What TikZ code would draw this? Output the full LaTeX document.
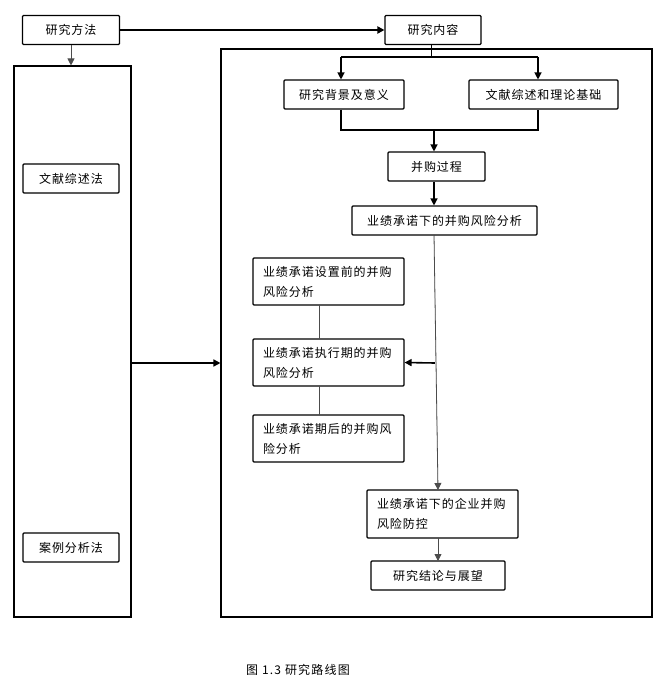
\documentclass[tikz,border=0pt]{standalone}
\usepackage{fontspec}
\newfontfamily\cjk[LetterSpace=8]{Noto Sans CJK SC}
\newfontfamily\capfont[LetterSpace=10]{Noto Sans CJK SC}
\usetikzlibrary{arrows.meta,calc}
\begin{document}
\begin{tikzpicture}[x=1pt,y=-1pt,
  box/.style={draw, line width=1.1pt, rounded corners=1pt, inner sep=0pt, align=center,
    font=\cjk\fontsize{12}{20}\selectfont},
  mbox/.style={box, align=left, inner xsep=10pt},
  frame/.style={draw, line width=1.1pt, inner sep=0pt},
  conn/.style={line width=1.2pt, -{Triangle[length=7pt,width=7pt]}},
  thin/.style={line width=0.8pt, draw=black!70},
  thinarr/.style={thin, -{Triangle[length=7pt,width=7pt]}, draw=black!70, fill=black}
]
\useasboundingbox (0,0) rectangle (663,680);
% frames
\node[frame, minimum width=117pt, minimum height=551pt] (lbox) at (72.5,341.5) {};
\node[frame, minimum width=431pt, minimum height=568pt] (rbox) at (436.5,333) {};
% top
\node[box, minimum width=97pt, minimum height=29pt] (m1) at (71,30) {研究方法};
\node[box, minimum width=96pt, minimum height=29pt] (c1) at (433,30) {研究内容};
% left methods
\node[box, minimum width=96pt, minimum height=29pt] (l1) at (71,178.5) {文献综述法};
\node[box, minimum width=96pt, minimum height=29pt] (l2) at (71,547.5) {案例分析法};
% right content
\node[box, minimum width=120pt, minimum height=29pt] (b1) at (344,94.5) {研究背景及意义};
\node[box, minimum width=149pt, minimum height=29pt] (b2) at (543.5,94.5) {文献综述和理论基础};
\node[box, minimum width=97pt, minimum height=29pt] (p1) at (436.5,166.5) {并购过程};
\node[box, minimum width=185pt, minimum height=29pt] (p2) at (444.5,220.5) {业绩承诺下的并购风险分析};
\node[mbox, minimum width=151pt, minimum height=47pt, text width=131pt] (s1) at (328.5,281.5) {业绩承诺设置前的并购\\风险分析};
\node[mbox, minimum width=151pt, minimum height=47pt, text width=131pt] (s2) at (328.5,362.5) {业绩承诺执行期的并购\\风险分析};
\node[mbox, minimum width=151pt, minimum height=47pt, text width=131pt] (s3) at (328.5,438.5) {业绩承诺期后的并购风\\险分析};
\node[mbox, minimum width=151pt, minimum height=48pt, text width=131pt] (p3) at (442.5,514) {业绩承诺下的企业并购\\风险防控};
\node[box, minimum width=134pt, minimum height=29pt] (p4) at (438,575.5) {研究结论与展望};
% caption
\node[font=\capfont\fontsize{12}{14}\selectfont] (cap) at (298,670) {图 1.3 研究路线图};
% coordinates
\coordinate (j1) at (431,57);
\coordinate (ja) at (341,57);
\coordinate (jb) at (538,57);
\coordinate (j2) at (434,130);
\coordinate (ka) at (434,235);
\coordinate (kb) at (438,490);
\coordinate (k) at (434.8,363);
% connectors
\draw[conn, line width=2pt] (m1.east) -- (m1.east -| c1.west);
\draw[thinarr] (m1.south) -- (lbox.north -| m1.south);
\draw[line width=0.8pt] (c1.south -| j1) -- (j1);
\draw[line width=1.2pt] (ja) -- (jb);
\draw[conn] (ja) -- (ja |- b1.north);
\draw[conn] (jb) -- (jb |- b2.north);
\draw[line width=1.2pt] (ja |- b1.south) -- (ja |- j2) -- (jb |- j2) -- (jb |- b2.south);
\draw[conn] (j2) -- (j2 |- p1.north);
\draw[conn] (j2 |- p1.south) -- (j2 |- p2.north);
\draw[thinarr] (ka) -- (kb);
\draw[conn, line width=1.6pt] (k) -- (s2.east);
\draw[thin] (319,305) -- (319,339);
\draw[thin] (319,386) -- (319,415);
\draw[thinarr] (438,538) -- (438,561);
\draw[conn, line width=1.6pt] (lbox.east |- k) -- (rbox.west |- k);
\end{tikzpicture}
\end{document}
